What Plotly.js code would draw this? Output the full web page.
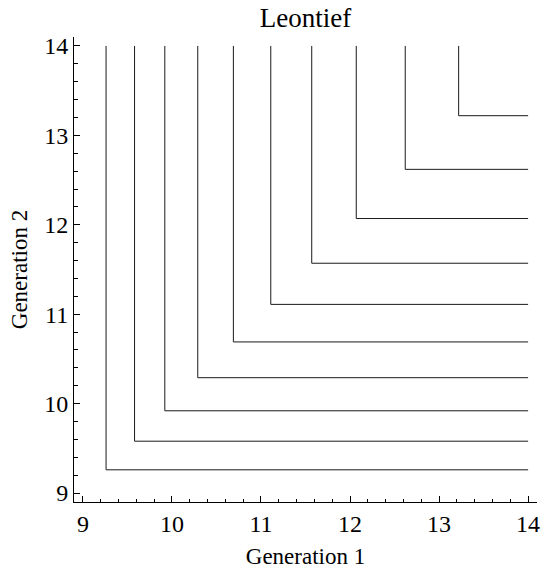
<!DOCTYPE html>
<html>
<head>
<meta charset="utf-8">
<script src="https://cdn.plot.ly/plotly-3.0.1.min.js"></script>
<style>
  html, body { margin: 0; padding: 0; background: #fff; }
  #chart { width: 552px; height: 571px; }
</style>
</head>
<body>
<div id="chart"></div>
<script>
// Leontief indifference curves: each level c gives an L-shaped contour
// min(g1, g2) = c with its corner at (c, c).
const levels = [9.26, 9.58, 9.92, 10.29, 10.69, 11.11, 11.57, 12.07, 12.62, 13.22];
const upper = 14;              // curves run out to the edge of the domain
const tickVals = [9, 10, 11, 12, 13, 14];
const tickText = ['9', '10', '11', '12', '13', '14'];

const serif = "'Liberation Serif', 'Times New Roman', serif";

const traces = levels.map(c => ({
  type: 'scatter',
  mode: 'lines',
  x: [c, c, upper],
  y: [upper, c, c],
  line: { color: '#1a1a1a', width: 1 },
  hoverinfo: 'skip',
  showlegend: false
}));

function axis(titleText, standoff) {
  return {
    range: [8.9, 14.1],
    showgrid: false,
    zeroline: false,
    showline: true,
    linecolor: '#000',
    linewidth: 1,
    mirror: false,
    ticks: 'inside',
    ticklen: 6,
    tickwidth: 1,
    tickcolor: '#000',
    tickvals: tickVals,
    ticktext: tickText,
    tickfont: { family: serif, size: 24, color: '#000' },
    minor: { dtick: 0.2, tick0: 9, ticks: 'inside', ticklen: 3.5, tickwidth: 1, tickcolor: '#000', showgrid: false },
    title: { text: titleText, standoff: standoff, font: { family: serif, size: 23, color: '#000' } },
    fixedrange: true
  };
}

const layout = {
  width: 552,
  height: 571,
  margin: { l: 74, r: 15, t: 37, b: 69 },
  paper_bgcolor: '#fff',
  plot_bgcolor: '#fff',
  title: {
    text: 'Leontief',
    font: { family: serif, size: 27, color: '#000' },
    xref: 'paper', x: 0.5, xanchor: 'center',
    yref: 'container', y: 0.986, yanchor: 'top'
  },
  xaxis: axis('Generation 1', 12),
  yaxis: axis('Generation 2', 10)
};

Plotly.newPlot('chart', traces, layout, { displayModeBar: false, staticPlot: true });
</script>
</body>
</html>
